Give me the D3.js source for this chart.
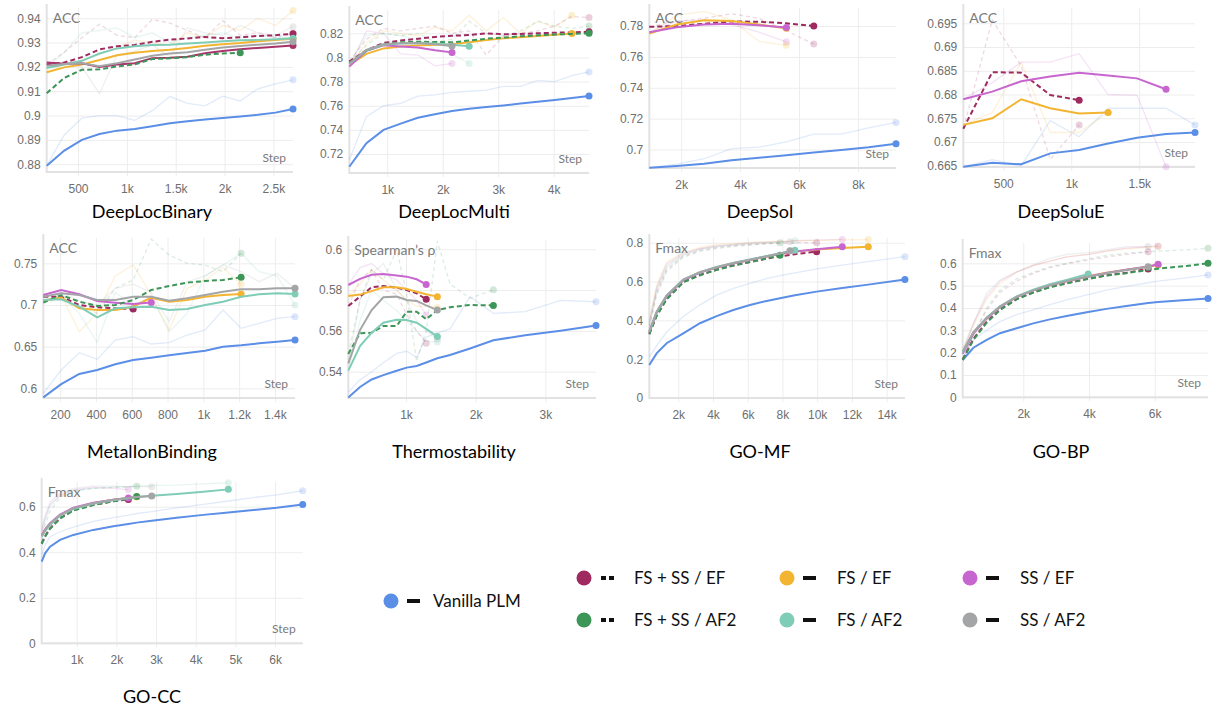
<!DOCTYPE html>
<html>
<head>
<meta charset="utf-8">
<script src="https://cdn.jsdelivr.net/npm/d3@7"></script>
<style>
  body { margin: 0; background: #fff; }
  svg { display: block; font-family: Lato, "Noto Sans", sans-serif; }
</style>
</head>
<body>
<svg id="chart" width="1225" height="711"></svg>
<script>
// series that appear in every panel
var seriesKeys = ["vanilla", "fsssEF", "fsEF", "ssEF", "fsssAF", "fsAF", "ssAF"];
var seriesLabels = ["Vanilla PLM", "FS + SS / EF", "FS / EF", "SS / EF", "FS + SS / AF2", "FS / AF2", "SS / AF2"];
var seriesColors = ["#5b8ee6", "#9e2a5f", "#f2b431", "#c866cf", "#3d9658", "#80cdb7", "#a3a5a7"];
var seriesDashed = [false, true, false, false, true, false, false];

// ---- DeepLocBinary
var locBinSteps = [180, 360, 540, 720, 900, 1080, 1260, 1440, 1620, 1800, 1980, 2160, 2340, 2520, 2700];
var locBin = {
  vanilla: [0.8794, 0.8856, 0.8900, 0.8924, 0.8938, 0.8945, 0.8956, 0.8968, 0.8977, 0.8984, 0.8990, 0.8996, 0.9003, 0.9012, 0.9027],
  fsAF:    [0.9195, 0.9210, 0.9225, 0.9255, 0.9276, 0.9285, 0.9290, 0.9291, 0.9296, 0.9300, 0.9305, 0.9309, 0.9311, 0.9314, 0.9318],
  ssAF:    [0.9205, 0.9212, 0.9215, 0.9203, 0.9215, 0.9230, 0.9246, 0.9255, 0.9260, 0.9270, 0.9280, 0.9286, 0.9291, 0.9296, 0.9303],
  fsEF:    [0.9178, 0.9198, 0.9210, 0.9228, 0.9248, 0.9258, 0.9265, 0.9270, 0.9278, 0.9287, 0.9293, 0.9298, 0.9305, 0.9310, 0.9316],
  ssEF:    [0.9218, 0.9213, 0.9215, 0.9200, 0.9210, 0.9215, 0.9236, 0.9238, 0.9242, 0.9256, 0.9265, 0.9272, 0.9278, 0.9283, 0.9288],
  fsssAF:  [0.9092, 0.9155, 0.9188, 0.9190, 0.9202, 0.9210, 0.9232, 0.9235, 0.9240, 0.9250, 0.9255, 0.9258],
  fsssEF:  [0.9210, 0.9218, 0.9240, 0.9272, 0.9285, 0.9290, 0.9303, 0.9312, 0.9317, 0.9323, 0.9318, 0.9322, 0.9327, 0.9330, 0.9336]
};
var locBinRaw = {
  vanilla: [0.8794, 0.8920, 0.8989, 0.9000, 0.9000, 0.8980, 0.9020, 0.9078, 0.9050, 0.9040, 0.9080, 0.9060, 0.9110, 0.9130, 0.9147],
  fsAF:    [0.9195, 0.9260, 0.9340, 0.9350, 0.9360, 0.9320, 0.9340, 0.9300, 0.9320, 0.9330, 0.9340, 0.9320, 0.9330, 0.9320, 0.9320],
  ssAF:    [0.9205, 0.9210, 0.9200, 0.9090, 0.9250, 0.9265, 0.9290, 0.9240, 0.9360, 0.9340, 0.9330, 0.9370, 0.9340, 0.9330, 0.9365],
  fsEF:    [0.9178, 0.9210, 0.9230, 0.9250, 0.9280, 0.9310, 0.9300, 0.9290, 0.9340, 0.9320, 0.9370, 0.9350, 0.9400, 0.9370, 0.9432],
  fsssEF:  [0.9210, 0.9260, 0.9320, 0.9375, 0.9330, 0.9320, 0.9395, 0.9380, 0.9350, 0.9320, 0.9390, 0.9330, 0.9340, 0.9320, 0.9338]
};

// ---- DeepLocMulti
var locMultiSteps = [316, 625, 933, 1242, 1550, 1859, 2167, 2476, 2785, 3093, 3402, 3710, 4019, 4327, 4636];
var locMulti = {
  vanilla: [0.7095, 0.7290, 0.7400, 0.7452, 0.7500, 0.7530, 0.7556, 0.7575, 0.7590, 0.7603, 0.7618, 0.7633, 0.7648, 0.7664, 0.7681],
  ssEF:    [0.7924, 0.8055, 0.8100, 0.8090, 0.8082, 0.8060, 0.8042],
  ssAF:    [0.7950, 0.8062, 0.8110, 0.8118, 0.8120, 0.8110, 0.8095],
  fsAF:    [0.7945, 0.8060, 0.8105, 0.8115, 0.8120, 0.8115, 0.8105, 0.8092],
  fsEF:    [0.7938, 0.8030, 0.8075, 0.8090, 0.8100, 0.8105, 0.8110, 0.8125, 0.8145, 0.8158, 0.8168, 0.8178, 0.8188, 0.8198],
  fsssAF:  [0.7955, 0.8055, 0.8110, 0.8125, 0.8130, 0.8128, 0.8125, 0.8140, 0.8155, 0.8165, 0.8175, 0.8183, 0.8190, 0.8195, 0.8200],
  fsssEF:  [0.7965, 0.8060, 0.8120, 0.8140, 0.8155, 0.8170, 0.8180, 0.8185, 0.8200, 0.8192, 0.8195, 0.8200, 0.8205, 0.8208, 0.8212]
};
var locMultiRaw = {
  vanilla: [0.7150, 0.7510, 0.7600, 0.7620, 0.7680, 0.7690, 0.7710, 0.7720, 0.7730, 0.7760, 0.7760, 0.7810, 0.7800, 0.7850, 0.7880],
  ssEF:    [0.7924, 0.8220, 0.8200, 0.8030, 0.8020, 0.7930, 0.7950],
  fsAF:    [0.7950, 0.8180, 0.8200, 0.8180, 0.8150, 0.8070, 0.8030, 0.7950],
  fsEF:    [0.7938, 0.8120, 0.8220, 0.8200, 0.8180, 0.8250, 0.8220, 0.8350, 0.8220, 0.8330, 0.8200, 0.8300, 0.8250, 0.8350],
  fsssAF:  [0.7960, 0.8100, 0.8200, 0.8180, 0.8200, 0.8130, 0.8150, 0.8300, 0.8200, 0.8180, 0.8220, 0.8300, 0.8260, 0.8240, 0.8260],
  fsssEF:  [0.7970, 0.8150, 0.8240, 0.8220, 0.8240, 0.8260, 0.8200, 0.8220, 0.8020, 0.8180, 0.8200, 0.8220, 0.8260, 0.8340, 0.8330]
};

// ---- DeepSol
var solSteps = [920, 1850, 2780, 3710, 4640, 5570, 6500, 7430, 8360, 9290];
var sol = {
  vanilla: [0.6881, 0.6893, 0.6908, 0.6930, 0.6946, 0.6962, 0.6980, 0.6996, 0.7014, 0.7037],
  ssEF:    [0.7760, 0.7792, 0.7810, 0.7815, 0.7805, 0.7790],
  fsEF:    [0.7752, 0.7810, 0.7838, 0.7832, 0.7810, 0.7785],
  fsssEF:  [0.7795, 0.7800, 0.7815, 0.7830, 0.7828, 0.7818, 0.7800]
};
var solRaw = {
  vanilla: [0.6881, 0.6905, 0.6940, 0.7005, 0.7015, 0.7050, 0.7100, 0.7100, 0.7140, 0.7175],
  ssEF:    [0.7760, 0.7830, 0.7840, 0.7810, 0.7760, 0.7698],
  fsEF:    [0.7752, 0.7870, 0.7895, 0.7840, 0.7700, 0.7675],
  fsssEF:  [0.7795, 0.7830, 0.7850, 0.7880, 0.7850, 0.7770, 0.7683]
};

// ---- DeepSoluE
var soluESteps = [206, 419, 632, 845, 1058, 1271, 1484, 1697, 1910];
var soluE = {
  vanilla: [0.6648, 0.6656, 0.6653, 0.6676, 0.6683, 0.6697, 0.6709, 0.6717, 0.6720],
  ssEF:    [0.6790, 0.6806, 0.6828, 0.6838, 0.6846, 0.6840, 0.6834, 0.6811],
  fsEF:    [0.6736, 0.6750, 0.6790, 0.6771, 0.6760, 0.6762],
  fsssEF:  [0.6728, 0.6847, 0.6846, 0.6799, 0.6788]
};
var soluERaw = {
  vanilla: [0.6648, 0.6663, 0.6650, 0.6745, 0.6711, 0.6771, 0.6771, 0.6771, 0.6736],
  ssEF:    [0.6790, 0.6825, 0.6868, 0.6868, 0.6886, 0.6800, 0.6798, 0.6648],
  fsEF:    [0.6736, 0.6762, 0.6868, 0.6720, 0.6720, 0.6762],
  fsssEF:  [0.6728, 0.6957, 0.6860, 0.6663, 0.6736]
};

// ---- MetalIonBinding
var metalSteps = [106, 206, 307, 407, 508, 608, 709, 809, 909, 1010, 1110, 1211, 1311, 1412, 1512];
var metal = {
  vanilla: [0.5892, 0.6050, 0.6172, 0.6220, 0.6288, 0.6340, 0.6368, 0.6396, 0.6425, 0.6452, 0.6500, 0.6516, 0.6540, 0.6560, 0.6580],
  ssAF:    [0.7100, 0.7140, 0.7120, 0.7060, 0.7060, 0.7100, 0.7100, 0.7050, 0.7080, 0.7120, 0.7160, 0.7190, 0.7190, 0.7200, 0.7200],
  fsAF:    [0.7060, 0.7068, 0.6980, 0.6852, 0.6960, 0.6972, 0.6980, 0.6940, 0.6952, 0.7000, 0.7040, 0.7100, 0.7128, 0.7140, 0.7132],
  fsEF:    [0.7052, 0.7090, 0.6960, 0.6940, 0.6940, 0.6980, 0.7088, 0.7040, 0.7060, 0.7100, 0.7120, 0.7132],
  ssEF:    [0.7120, 0.7180, 0.7128, 0.7048, 0.7028, 0.7012, 0.7030],
  fsssEF:  [0.7100, 0.7100, 0.7000, 0.6972, 0.6960, 0.6952],
  fsssAF:  [0.7028, 0.7120, 0.7040, 0.6988, 0.7000, 0.7060, 0.7180, 0.7228, 0.7268, 0.7288, 0.7300, 0.7332]
};
var metalRaw = {
  vanilla: [0.5940, 0.6220, 0.6428, 0.6348, 0.6580, 0.6620, 0.6532, 0.6548, 0.6640, 0.6700, 0.6940, 0.6720, 0.6780, 0.6840, 0.6860],
  ssAF:    [0.7100, 0.7150, 0.7050, 0.7000, 0.7200, 0.7250, 0.7150, 0.6800, 0.7280, 0.7350, 0.7480, 0.7400, 0.7280, 0.7380, 0.7200],
  fsAF:    [0.7060, 0.7100, 0.6900, 0.6550, 0.7150, 0.7000, 0.7100, 0.6680, 0.6900, 0.7350, 0.7480, 0.7620, 0.7400, 0.7350, 0.7000],
  fsEF:    [0.7050, 0.7120, 0.6680, 0.6900, 0.7350, 0.7480, 0.7120, 0.6700, 0.7200, 0.7300, 0.7450, 0.7250],
  fsssAF:  [0.7028, 0.7120, 0.7000, 0.6900, 0.7200, 0.7300, 0.7790, 0.7600, 0.7500, 0.7480, 0.7400, 0.7620]
};

// ---- Thermostability
var thermoSteps = [172, 340, 507, 675, 866, 1010, 1153, 1290, 1450, 1632, 1919, 2254, 2711, 3219, 3727];
var thermo = {
  vanilla: [0.5274, 0.5325, 0.5362, 0.5383, 0.5405, 0.5420, 0.5428, 0.5445, 0.5466, 0.5482, 0.5514, 0.5554, 0.5579, 0.5601, 0.5626],
  fsAF:    [0.5405, 0.5526, 0.5591, 0.5640, 0.5655, 0.5653, 0.5640, 0.5610, 0.5572],
  ssAF:    [0.5441, 0.5604, 0.5702, 0.5765, 0.5768, 0.5752, 0.5747, 0.5725, 0.5702],
  fsssAF:  [0.5487, 0.5588, 0.5591, 0.5624, 0.5624, 0.5694, 0.5694, 0.5657, 0.5702, 0.5716, 0.5727, 0.5725],
  fsEF:    [0.5771, 0.5778, 0.5795, 0.5814, 0.5814, 0.5805, 0.5792, 0.5780, 0.5768],
  fsssEF:  [0.5722, 0.5768, 0.5814, 0.5820, 0.5812, 0.5800, 0.5784, 0.5755],
  ssEF:    [0.5825, 0.5855, 0.5875, 0.5879, 0.5872, 0.5866, 0.5853, 0.5828]
};
var thermoRaw = {
  vanilla: [0.5300, 0.5360, 0.5400, 0.5444, 0.5490, 0.5500, 0.5470, 0.5570, 0.5590, 0.5610, 0.5768, 0.5686, 0.5694, 0.5750, 0.5743],
  fsAF:    [0.5405, 0.5650, 0.5800, 0.5750, 0.5700, 0.5650, 0.5600, 0.5550, 0.5545],
  ssAF:    [0.5441, 0.5750, 0.5880, 0.5930, 0.5800, 0.5750, 0.5650, 0.5600, 0.5560],
  fsssAF:  [0.5487, 0.5750, 0.5900, 0.5850, 0.6000, 0.5780, 0.5450, 0.5600, 0.6040, 0.5830, 0.5760, 0.5802],
  fsEF:    [0.5771, 0.5830, 0.5900, 0.5850, 0.5800, 0.5750, 0.5720, 0.5720, 0.5715],
  fsssEF:  [0.5722, 0.5850, 0.5900, 0.5800, 0.5780, 0.5680, 0.5600, 0.5540],
  ssEF:    [0.5825, 0.5910, 0.5930, 0.5880, 0.5850, 0.5800, 0.5750, 0.5678]
};

// ---- GO-MF
var mfSteps = [330, 752, 1328, 2288, 3248, 4208, 5168, 6128, 7088, 7856, 8432, 8720, 9968, 11446, 12944, 15056];
var mf = {
  vanilla: [0.170, 0.230, 0.282, 0.333, 0.385, 0.422, 0.453, 0.479, 0.500, 0.514, 0.524, 0.529, 0.548, 0.567, 0.584, 0.611],
  fsssAF:  [0.328, 0.423, 0.508, 0.596, 0.632, 0.660, 0.682, 0.700, 0.718, 0.735],
  ssAF:    [0.345, 0.445, 0.528, 0.610, 0.648, 0.674, 0.695, 0.712, 0.730, 0.744, 0.758],
  fsAF:    [0.342, 0.442, 0.527, 0.610, 0.648, 0.675, 0.696, 0.713, 0.731, 0.745, 0.754, 0.761],
  fsssEF:  [0.330, 0.425, 0.510, 0.598, 0.634, 0.661, 0.683, 0.701, 0.718, 0.730, 0.737, 0.741, 0.754],
  ssEF:    [0.338, 0.438, 0.522, 0.606, 0.646, 0.672, 0.693, 0.711, 0.729, 0.743, 0.751, 0.755, 0.766, 0.779],
  fsEF:    [0.340, 0.440, 0.525, 0.608, 0.647, 0.673, 0.694, 0.711, 0.729, 0.742, 0.750, 0.754, 0.765, 0.773, 0.779]
};
var mfRaw = {
  vanilla: [0.21, 0.27, 0.34, 0.42, 0.48, 0.53, 0.565, 0.59, 0.615, 0.63, 0.64, 0.645, 0.665, 0.685, 0.703, 0.728],
  fsssAF:  [0.36, 0.53, 0.65, 0.725, 0.755, 0.77, 0.78, 0.788, 0.795, 0.80],
  ssAF:    [0.38, 0.56, 0.68, 0.74, 0.768, 0.78, 0.79, 0.795, 0.80, 0.803, 0.805],
  fsAF:    [0.38, 0.55, 0.67, 0.735, 0.765, 0.78, 0.788, 0.795, 0.80, 0.803, 0.806, 0.81],
  fsssEF:  [0.37, 0.54, 0.66, 0.73, 0.76, 0.775, 0.785, 0.79, 0.795, 0.797, 0.798, 0.80, 0.80],
  ssEF:    [0.39, 0.57, 0.69, 0.745, 0.77, 0.785, 0.79, 0.80, 0.803, 0.806, 0.808, 0.81, 0.813, 0.817],
  fsEF:    [0.40, 0.58, 0.70, 0.75, 0.775, 0.79, 0.795, 0.80, 0.805, 0.807, 0.808, 0.81, 0.812, 0.815, 0.816]
};

// ---- GO-BP
var bpSteps = [156, 481, 886, 1291, 1797, 2304, 2810, 3317, 3975, 4533, 5140, 5799, 6103, 6964, 7622];
var bp = {
  vanilla: [0.167, 0.222, 0.257, 0.287, 0.309, 0.331, 0.349, 0.364, 0.382, 0.396, 0.409, 0.422, 0.427, 0.436, 0.442],
  fsAF:    [0.200, 0.290, 0.356, 0.408, 0.452, 0.482, 0.506, 0.526, 0.552],
  ssAF:    [0.205, 0.292, 0.356, 0.406, 0.450, 0.479, 0.502, 0.520, 0.540, 0.556, 0.570, 0.585],
  fsEF:    [0.197, 0.287, 0.354, 0.406, 0.450, 0.480, 0.503, 0.521, 0.542, 0.558, 0.571, 0.585, 0.592],
  ssEF:    [0.195, 0.285, 0.352, 0.404, 0.449, 0.479, 0.502, 0.520, 0.541, 0.557, 0.571, 0.586, 0.596],
  fsssEF:  [0.170, 0.262, 0.338, 0.393, 0.440, 0.470, 0.494, 0.512, 0.532, 0.546, 0.558, 0.575],
  fsssAF:  [0.167, 0.257, 0.334, 0.391, 0.439, 0.469, 0.493, 0.510, 0.530, 0.545, 0.556, 0.570, 0.576, 0.588, 0.600]
};
var bpRaw = {
  vanilla: [0.167, 0.257, 0.300, 0.339, 0.370, 0.391, 0.415, 0.436, 0.460, 0.480, 0.497, 0.513, 0.520, 0.535, 0.548],
  ssAF:    [0.22, 0.33, 0.466, 0.525, 0.563, 0.593, 0.622, 0.640, 0.648, 0.660, 0.675, 0.675],
  fsEF:    [0.21, 0.32, 0.44, 0.51, 0.56, 0.59, 0.61, 0.63, 0.64, 0.655, 0.665, 0.672, 0.675],
  ssEF:    [0.20, 0.33, 0.45, 0.52, 0.56, 0.59, 0.61, 0.628, 0.64, 0.655, 0.668, 0.675, 0.678],
  fsssEF:  [0.167, 0.28, 0.39, 0.47, 0.52, 0.555, 0.58, 0.598, 0.615, 0.628, 0.64, 0.652],
  fsssAF:  [0.167, 0.28, 0.40, 0.48, 0.53, 0.56, 0.585, 0.60, 0.62, 0.635, 0.645, 0.652, 0.655, 0.66, 0.667]
};

// ---- GO-CC
var ccSteps = [118, 202, 328, 580, 916, 1420, 1924, 2302, 2513, 2891, 3521, 4193, 4823, 5454, 6042, 6697];
var cc = {
  vanilla: [0.359, 0.395, 0.424, 0.454, 0.476, 0.498, 0.514, 0.524, 0.530, 0.538, 0.551, 0.564, 0.574, 0.585, 0.595, 0.610],
  fsAF:    [0.468, 0.493, 0.520, 0.560, 0.590, 0.613, 0.628, 0.637, 0.642, 0.648, 0.656, 0.666, 0.676],
  ssAF:    [0.472, 0.497, 0.525, 0.563, 0.593, 0.615, 0.630, 0.638, 0.642, 0.647],
  fsEF:    [0.470, 0.495, 0.522, 0.562, 0.592, 0.615, 0.630, 0.638, 0.644],
  ssEF:    [0.476, 0.500, 0.527, 0.565, 0.595, 0.617, 0.630, 0.638],
  fsssAF:  [0.436, 0.468, 0.503, 0.548, 0.583, 0.607, 0.624, 0.634, 0.645],
  fsssEF:  [0.439, 0.470, 0.505, 0.550, 0.585, 0.608, 0.624, 0.632]
};
var ccRaw = {
  vanilla: [0.390, 0.430, 0.468, 0.490, 0.510, 0.535, 0.552, 0.563, 0.570, 0.578, 0.595, 0.610, 0.625, 0.640, 0.652, 0.670],
  fsAF:    [0.48, 0.54, 0.60, 0.65, 0.67, 0.68, 0.685, 0.687, 0.69, 0.693, 0.695, 0.70, 0.705],
  ssAF:    [0.50, 0.56, 0.62, 0.66, 0.68, 0.69, 0.69, 0.688, 0.688, 0.688],
  ssEF:    [0.49, 0.55, 0.61, 0.65, 0.675, 0.685, 0.68, 0.675],
  fsssAF:  [0.45, 0.52, 0.58, 0.64, 0.67, 0.68, 0.685, 0.688, 0.69]
};

// tick values
var locBinYTicks = [0.88, 0.89, 0.9, 0.91, 0.92, 0.93, 0.94];
var locBinXTicks = [500, 1000, 1500, 2000, 2500];
var locMultiYTicks = [0.72, 0.74, 0.76, 0.78, 0.8, 0.82];
var locMultiXTicks = [1000, 2000, 3000, 4000];
var solYTicks = [0.7, 0.72, 0.74, 0.76, 0.78];
var solXTicks = [2000, 4000, 6000, 8000];
var soluEYTicks = [0.665, 0.67, 0.675, 0.68, 0.685, 0.69, 0.695];
var soluEXTicks = [500, 1000, 1500];
var metalYTicks = [0.6, 0.65, 0.7, 0.75];
var metalXTicks = [200, 400, 600, 800, 1000, 1200, 1400];
var thermoYTicks = [0.54, 0.56, 0.58, 0.6];
var thermoXTicks = [1000, 2000, 3000];
var mfYTicks = [0, 0.2, 0.4, 0.6, 0.8];
var mfXTicks = [2000, 4000, 6000, 8000, 10000, 12000, 14000];
var bpYTicks = [0, 0.1, 0.2, 0.3, 0.4, 0.5, 0.6];
var bpXTicks = [2000, 4000, 6000];
var ccYTicks = [0, 0.2, 0.4, 0.6];
var ccXTicks = [1000, 2000, 3000, 4000, 5000, 6000];

// layout of the small multiples
var panels = [
  {title: "DeepLocBinary", metric: "ACC", steps: locBinSteps, lines: locBin, raw: locBinRaw,
   yTicks: locBinYTicks, xTicks: locBinXTicks, xDomain: [180, 2700], yDomain: [0.8768, 0.9442],
   left: 46.7, right: 293, top: 8, bottom: 172, titleX: 152, titleY: 218, colors: {ssEF: "#a8336a"}},
  {title: "DeepLocMulti", metric: "ACC", steps: locMultiSteps, lines: locMulti, raw: locMultiRaw,
   yTicks: locMultiYTicks, xTicks: locMultiXTicks, xDomain: [316, 4636], yDomain: [0.7043, 0.8393],
   left: 349.3, right: 589, top: 10, bottom: 173, titleX: 454, titleY: 218},
  {title: "DeepSol", metric: "ACC", steps: solSteps, lines: sol, raw: solRaw,
   yTicks: solYTicks, xTicks: solXTicks, xDomain: [920, 9290], yDomain: [0.688, 0.7917],
   left: 649.3, right: 896, top: 8, bottom: 168, titleX: 760, titleY: 218},
  {title: "DeepSoluE", metric: "ACC", steps: soluESteps, lines: soluE, raw: soluERaw,
   yTicks: soluEYTicks, xTicks: soluEXTicks, xDomain: [206, 1910], yDomain: [0.66473, 0.69822],
   left: 963.3, right: 1195, top: 8, bottom: 167, titleX: 1061, titleY: 218},
  {title: "MetalIonBinding", metric: "ACC", steps: metalSteps, lines: metal, raw: metalRaw,
   yTicks: metalYTicks, xTicks: metalXTicks, xDomain: [106, 1512], yDomain: [0.5884, 0.7804],
   left: 43.3, right: 295, top: 238, bottom: 398, titleX: 152, titleY: 458},
  {title: "Thermostability", metric: "Spearman\u2019s \u03c1", steps: thermoSteps, lines: thermo, raw: thermoRaw,
   yTicks: thermoYTicks, xTicks: thermoXTicks, xDomain: [172, 3727], yDomain: [0.52711, 0.60456],
   left: 348.3, right: 596, top: 240, bottom: 398, titleX: 454, titleY: 458},
  {title: "GO-MF", metric: "Fmax", steps: mfSteps, lines: mf, raw: mfRaw,
   yTicks: mfYTicks, xTicks: mfXTicks, xDomain: [330, 15060], yDomain: [0, 0.8242],
   left: 649.3, right: 905, top: 238, bottom: 398, titleX: 760, titleY: 458},
  {title: "GO-BP", metric: "Fmax", steps: bpSteps, lines: bp, raw: bpRaw,
   yTicks: bpYTicks, xTicks: bpXTicks, xDomain: [156, 7622], yDomain: [0, 0.691],
   left: 962.7, right: 1208, top: 243, bottom: 397.3, titleX: 1061, titleY: 458},
  {title: "GO-CC", metric: "Fmax", steps: ccSteps, lines: cc, raw: ccRaw,
   yTicks: ccYTicks, xTicks: ccXTicks, xDomain: [118, 6697], yDomain: [0, 0.7097],
   left: 41.7, right: 302.7, top: 481.7, bottom: 643.3, titleX: 152, titleY: 703}
];

var svg = d3.select("#chart");
svg.append("rect").attr("width", 1225).attr("height", 711).attr("fill", "#fff");

var fmtY = function(d) { return String(+d.toFixed(3)); };
var fmtX = function(d) { return d >= 1000 ? (+(d / 1000).toFixed(1)) + "k" : String(d); };

function colorOf(p, key) {
  if (p.colors && p.colors[key]) return p.colors[key];
  return seriesColors[seriesKeys.indexOf(key)];
}

function drawPanel(p) {
  var x = d3.scaleLinear().domain(p.xDomain).range([p.left, p.right]);
  var y = d3.scaleLinear().domain(p.yDomain).range([p.bottom, p.top]);
  var w = p.right - p.left, h = p.bottom - p.top;
  var g = svg.append("g");

  // horizontal grid + y labels
  g.append("g")
    .attr("transform", "translate(" + p.left + ",0)")
    .call(d3.axisLeft(y).tickValues(p.yTicks).tickSize(-w).tickPadding(6).tickFormat(fmtY))
    .call(function(a) {
      a.select(".domain").remove();
      a.selectAll("line").attr("stroke", "#ededed");
      a.selectAll("text").attr("fill", "#6e6e6e").style("font-size", "12px");
    });

  // vertical grid + x labels
  g.append("g")
    .attr("transform", "translate(0," + p.bottom + ")")
    .call(d3.axisBottom(x).tickValues(p.xTicks).tickSize(-h).tickPadding(12).tickFormat(fmtX))
    .call(function(a) {
      a.select(".domain").remove();
      a.selectAll("line").attr("stroke", "#ededed").attr("y1", 4);
      a.selectAll("text").attr("fill", "#6e6e6e").style("font-size", "12px");
    });

  // frame lines
  g.append("line").attr("x1", p.left).attr("x2", p.left).attr("y1", p.top - 4).attr("y2", p.bottom + 1)
    .attr("stroke", "#e2e2e2").attr("stroke-width", 2);
  g.append("line").attr("x1", p.left).attr("x2", p.right).attr("y1", p.bottom).attr("y2", p.bottom)
    .attr("stroke", "#e2e2e2").attr("stroke-width", 2);

  var line = d3.line()
    .x(function(d) { return x(d[0]); })
    .y(function(d) { return y(d[1]); });

  function pts(vals) {
    return vals.map(function(v, i) { return [p.steps[i], v]; });
  }

  // faint raw runs
  Object.keys(p.raw).forEach(function(key) {
    var k = seriesKeys.indexOf(key), data = pts(p.raw[key]), c = colorOf(p, key);
    g.append("path").datum(data).attr("d", line)
      .attr("fill", "none").attr("stroke", c).attr("stroke-width", 1.3).attr("opacity", 0.18)
      .attr("stroke-dasharray", seriesDashed[k] ? "4,3" : null);
    var last = data[data.length - 1];
    g.append("circle").attr("cx", x(last[0])).attr("cy", y(last[1])).attr("r", 3.5)
      .attr("fill", c).attr("opacity", 0.22);
  });

  // smoothed runs
  seriesKeys.forEach(function(key, k) {
    if (!p.lines[key]) return;
    var data = pts(p.lines[key]), c = colorOf(p, key);
    g.append("path").datum(data).attr("d", line)
      .attr("fill", "none").attr("stroke", c).attr("stroke-width", 2)
      .attr("stroke-dasharray", seriesDashed[k] ? "5,3" : null);
    var last = data[data.length - 1];
    g.append("circle").attr("cx", x(last[0])).attr("cy", y(last[1])).attr("r", 3.5).attr("fill", c);
  });

  // metric and step labels
  g.append("text").attr("x", p.left + 6).attr("y", p.top + 15)
    .attr("fill", "#7a7a7a").style("font-size", "14px").text(p.metric);
  g.append("text").attr("x", p.right - 7).attr("y", p.bottom - 10).attr("text-anchor", "end")
    .attr("fill", "#7a7a7a").style("font-size", "12px").text("Step");

  // panel title
  svg.append("text").attr("x", p.titleX).attr("y", p.titleY).attr("text-anchor", "middle")
    .attr("fill", "#000").style("font-size", "18px").text(p.title);
}

panels.forEach(drawPanel);

// legend
var legendPos = {
  vanilla: [391, 601],
  fsssEF: [584, 578], fsEF: [787, 578], ssEF: [970, 578],
  fsssAF: [584, 620], fsAF: [787, 620], ssAF: [970, 620]
};
var legend = svg.append("g");
seriesKeys.forEach(function(key, k) {
  var pos = legendPos[key];
  var item = legend.append("g").attr("transform", "translate(" + pos[0] + "," + pos[1] + ")");
  item.append("circle").attr("r", 7.5).attr("fill", seriesColors[k]);
  if (seriesDashed[k]) {
    item.append("rect").attr("x", 17).attr("y", -2).attr("width", 5).attr("height", 4).attr("fill", "#111");
    item.append("rect").attr("x", 25).attr("y", -2).attr("width", 5).attr("height", 4).attr("fill", "#111");
  } else {
    item.append("rect").attr("x", 16).attr("y", -2).attr("width", 13).attr("height", 4).attr("fill", "#111");
  }
  item.append("text").attr("x", key === "vanilla" ? 42 : 50).attr("y", 6)
    .attr("fill", "#111").style("font-size", "17px").text(seriesLabels[k]);
});
</script>
</body>
</html>
